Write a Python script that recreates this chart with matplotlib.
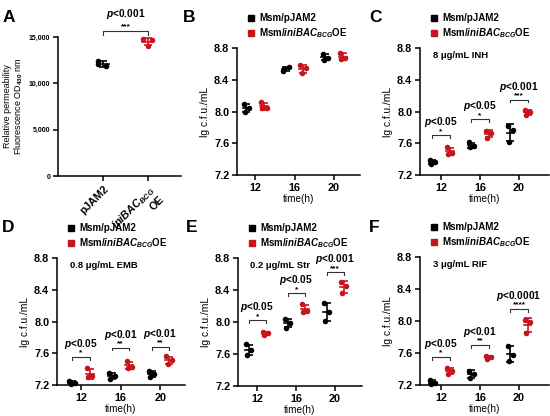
import matplotlib.pyplot as plt
import numpy as np
from matplotlib.ticker import FuncFormatter

plt.rcParams['font.family'] = ['Liberation Sans', 'DejaVu Sans']
plt.rcParams['font.weight'] = 'bold'
plt.rcParams['mathtext.fontset'] = 'custom'
plt.rcParams['mathtext.rm'] = 'Liberation Sans:bold'
plt.rcParams['mathtext.bf'] = 'Liberation Sans:bold'
plt.rcParams['mathtext.it'] = 'Liberation Sans:italic:bold'

BLACK = '#000000'
RED = '#c8141c'

# ---- data ----
groups_a = ['pJAM2', '$\\it{iniBAC}_{\\it{BCG}}$\nOE']
a_ctrl = [12450, 12100, 11830]
a_oe = [14750, 14700, 14050]

times = ['12', '16', '20']

b_ctrl = [[8.10, 8.05, 8.00], [8.51, 8.56, 8.54], [8.72, 8.68, 8.65]]
b_oe = [[8.12, 8.04, 8.04], [8.58, 8.55, 8.48], [8.74, 8.67, 8.66]]

c_ctrl = [[7.39, 7.37, 7.34], [7.61, 7.57, 7.55], [7.82, 7.77, 7.61]]
c_oe = [[7.55, 7.48, 7.47], [7.76, 7.73, 7.67], [8.02, 7.99, 7.96]]

d_ctrl = [[7.25, 7.23, 7.21], [7.35, 7.31, 7.28], [7.38, 7.34, 7.30]]
d_oe = [[7.41, 7.31, 7.30], [7.50, 7.43, 7.42], [7.56, 7.51, 7.47]]

e_ctrl = [[7.72, 7.65, 7.59], [8.04, 7.99, 7.93], [8.24, 8.12, 8.01]]
e_oe = [[7.88, 7.86, 7.84], [8.22, 8.14, 8.13], [8.50, 8.45, 8.36]]

f_ctrl = [[7.26, 7.23, 7.21], [7.38, 7.34, 7.29], [7.69, 7.57, 7.50]]
f_oe = [[7.41, 7.38, 7.34], [7.56, 7.55, 7.53], [8.01, 7.99, 7.85]]

drugs = {'C': '8 μg/mL INH', 'D': '0.8 μg/mL EMB', 'E': '0.2 μg/mL Str', 'F': '3 μg/mL RIF'}

brk_y = {'C': [7.70, 7.90, 8.15], 'D': [7.555, 7.67, 7.68],
         'E': [8.02, 8.36, 8.62], 'F': [7.55, 7.70, 8.15]}
p_txt = {'C': ['0.05', '0.05', '0.001'], 'D': ['0.05', '0.01', '0.01'],
         'E': ['0.05', '0.05', '0.001'], 'F': ['0.05', '0.01', '0.0001']}
stars = {'C': ['*', '*', '***'], 'D': ['*', '**', '**'],
         'E': ['*', '*', '***'], 'F': ['*', '**', '****']}

legend_labels = ['Msm/pJAM2', 'Msm/$\\it{iniBAC}_{\\it{BCG}}$OE']

W, H = 550, 416
fig = plt.figure(figsize=(5.5, 4.16), dpi=100)


def px_axes(l, t, r, b):
    return fig.add_axes([l / W, 1 - b / H, (r - l) / W, (b - t) / H])


JIT = [-0.07, 0.07, -0.04]


def group(ax, x, vals, col, jit=JIT, mw=0.1, cap=2.8):
    vals = np.array(vals)
    m = vals.mean()
    s = vals.std(ddof=1)
    ax.errorbar([x], [m], yerr=[s], fmt='none', ecolor=col, elinewidth=1.2,
                capsize=cap, capthick=1.2, clip_on=False, zorder=3)
    ax.plot([x - mw, x + mw], [m, m], color=col, lw=1.2, clip_on=False, zorder=3)
    ax.scatter(x + np.array(jit), vals, s=16, color=col, zorder=4, clip_on=False,
               linewidths=0)


def style(ax, tsize=7.8):
    for sp in ['top', 'right']:
        ax.spines[sp].set_visible(False)
    for sp in ['left', 'bottom']:
        ax.spines[sp].set_linewidth(1.1)
    ax.tick_params(width=1.1, length=3.5, labelsize=tsize, pad=2)


def bracket(ax, x1, x2, y, star, ptxt, h=0.035):
    ax.plot([x1, x1, x2, x2], [y - h, y, y, y - h], color='#333333', lw=0.8,
            clip_on=False)
    xm = (x1 + x2) / 2
    ax.text(xm, y + 0.005, star, ha='center', va='bottom', fontsize=6)
    ax.text(xm, y + 0.075, '$\\it{p}$<' + ptxt, ha='center', va='bottom', fontsize=7.3)


def legend(ax, lx, top):
    for i, (col, lab) in enumerate(zip([BLACK, RED], legend_labels)):
        y = 1 - (top - 30 + 15 * i) / H
        fig.lines.append(plt.Line2D([lx / W], [y], marker='s', ms=5, color=col,
                                    transform=fig.transFigure, linestyle='none'))
        fig.text((lx + 8) / W, y, lab, va='center', ha='left', fontsize=7)


# ---- panel A ----
axA = px_axes(58, 37, 181, 176)
style(axA, tsize=5.0)
group(axA, 0, a_ctrl, BLACK, jit=[-0.13, -0.13, 0.05], mw=0.12, cap=2.8)
group(axA, 1, a_oe, RED, jit=[-0.1, 0.1, 0.0], mw=0.12, cap=2.8)
axA.set_xlim(-1.02, 1.75)
axA.set_ylim(0, 15000)
axA.set_yticks([0, 5000, 10000, 15000])
axA.yaxis.set_major_formatter(FuncFormatter(lambda v, p: '{:,.0f}'.format(v)))
axA.set_xticks([0, 1])
axA.set_xticklabels(groups_a, rotation=45, ha='right', rotation_mode='anchor', fontsize=7.8)
axA.set_ylabel('Relative permeability\nFluorescence OD$_{430}$ nm', fontsize=6.5,
               linespacing=1.1)
axA.yaxis.set_label_coords(-33 / 123, 0.5)
axA.plot([0, 0, 1, 1], [15200, 15650, 15650, 15200], color='#333333', lw=0.8, clip_on=False)
axA.text(0.5, 15700, '***', ha='center', va='bottom', fontsize=6)
axA.text(0.5, 16700, '$\\it{p}$<0.001', ha='center', va='bottom', fontsize=7.3)

# ---- time-course panels ----
panels = [
    ('B', b_ctrl, b_oe, (237, 48, 360, 175), (-0.46, 2.66)),
    ('C', c_ctrl, c_oe, (420, 48, 549, 175), (-0.54, 2.77)),
    ('D', d_ctrl, d_oe, (57, 258, 185, 385), (-0.6, 2.62)),
    ('E', e_ctrl, e_oe, (238, 258, 362, 386), (-0.49, 2.69)),
    ('F', f_ctrl, f_oe, (420, 257, 549, 385), (-0.54, 2.77)),
]

for key, ctrl, oe, (l, t, r, b), xl in panels:
    ax = px_axes(l, t, r, b)
    style(ax)
    pos = np.arange(len(times))
    for i in range(len(times)):
        group(ax, pos[i] - 0.22, ctrl[i], BLACK)
        group(ax, pos[i] + 0.22, oe[i], RED)
        if key in brk_y:
            bracket(ax, pos[i] - 0.22, pos[i] + 0.22, brk_y[key][i],
                    stars[key][i], p_txt[key][i])
    ax.set_xlim(*xl)
    ax.set_ylim(7.2, 8.8)
    ax.set_yticks([7.2, 7.6, 8.0, 8.4, 8.8])
    ax.set_xticks(pos)
    ax.set_xticklabels(times)
    ax.set_xlabel('time(h)', fontsize=7.2, labelpad=1)
    ax.set_ylabel('lg c.f.u./mL', fontsize=7.4, labelpad=3)
    if key in drugs:
        ax.text(0.1, 0.94, drugs[key], transform=ax.transAxes, fontsize=6.8,
                ha='left', va='center')
    legend(ax, l + 14, t)

# ---- panel letters ----
for lab, x, y in [('A', 3, 22), ('B', 183, 22), ('C', 369, 22),
                  ('D', 2, 232), ('E', 186, 232), ('F', 369, 232)]:
    fig.text(x / W, 1 - y / H, lab, fontsize=12.5, fontweight='bold', va='baseline')

fig.savefig('out.png', dpi=100)
